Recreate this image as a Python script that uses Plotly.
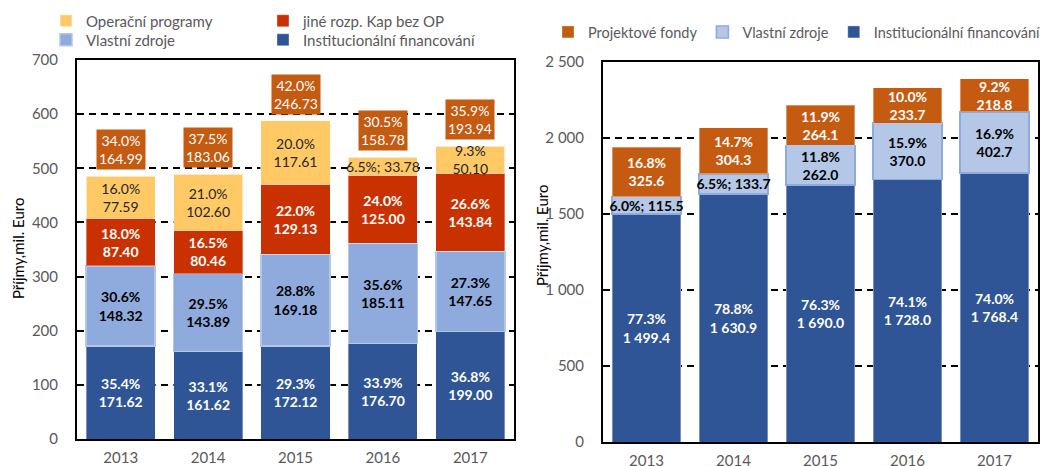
import plotly.graph_objects as go

years = ["2013", "2014", "2015", "2016", "2017"]

# ---- Left chart data (mil. Euro) ----
l_inst = [171.62, 161.62, 172.12, 176.70, 199.00]
l_inst_pct = [35.4, 33.1, 29.3, 33.9, 36.8]
l_vlast = [148.32, 143.89, 169.18, 185.11, 147.65]
l_vlast_pct = [30.6, 29.5, 28.8, 35.6, 27.3]
l_jine = [87.40, 80.46, 129.13, 125.00, 143.84]
l_jine_pct = [18.0, 16.5, 22.0, 24.0, 26.6]
l_op = [77.59, 102.60, 117.61, 33.78, 50.10]
l_op_pct = [16.0, 21.0, 20.0, 6.5, 9.3]
l_proj = [164.99, 183.06, 246.73, 158.78, 193.94]
l_proj_pct = [34.0, 37.5, 42.0, 30.5, 35.9]

# ---- Right chart data (mil. Euro) ----
r_inst = [1499.4, 1630.9, 1690.0, 1728.0, 1768.4]
r_inst_pct = [77.3, 78.8, 76.3, 74.1, 74.0]
r_vlast = [115.5, 133.7, 262.0, 370.0, 402.7]
r_vlast_pct = [6.0, 6.5, 11.8, 15.9, 16.9]
r_proj = [325.6, 304.3, 264.1, 233.7, 218.8]
r_proj_pct = [16.8, 14.7, 11.9, 10.0, 9.2]

FONT = "Lato"
GRAY = "#595959"


def fmt2(v):
    return f"{v:.2f}"


def fmt1(v):
    return f"{v:,.1f}".replace(",", " ")


def labels(vals, pcts, f, single_below):
    out = []
    for v, p in zip(vals, pcts):
        if v < single_below:
            out.append(f"{p:.1f}%; {f(v)}")
        else:
            out.append(f"{p:.1f}%<br>{f(v)}")
    return out


fig = go.Figure()


def add_bar(x, y, name, color, line_color, line_w, text, tcolor, weight, xa, ya, legend, rank):
    fig.add_trace(go.Bar(
        x=x, y=y, name=name, xaxis=xa, yaxis=ya,
        marker=dict(color=color, line=dict(color=line_color, width=line_w)),
        text=text, textposition="inside", insidetextanchor="middle",
        constraintext="none", textangle=0, cliponaxis=False,
        textfont=dict(family=FONT, size=14, color=tcolor, weight=weight),
        legend=legend, legendrank=rank, hoverinfo="skip",
    ))


# Left chart traces (bottom to top)
add_bar(years, l_inst, "Institucionální financování", "#2F5597", "rgba(255,255,255,0.35)", 1,
        labels(l_inst, l_inst_pct, fmt2, 40), "white", "bold", "x", "y", "legend2", 2)
add_bar(years, l_vlast, "Vlastní zdroje", "#8FAADC", "#B4C7E7", 1.5,
        labels(l_vlast, l_vlast_pct, fmt2, 40), "black", "bold", "x", "y", "legend2", 1)
add_bar(years, l_jine, "jiné rozp. Kap bez OP", "#C93200", "rgba(255,255,255,0.35)", 1,
        labels(l_jine, l_jine_pct, fmt2, 40), "white", "bold", "x", "y", "legend", 2)
add_bar(years, l_op, "Operační programy", "#FFC966", "rgba(255,255,255,0.6)", 1,
        labels(l_op, l_op_pct, fmt2, 40), "#262626", "normal", "x", "y", "legend", 1)

# Right chart traces
add_bar(years, r_inst, "Institucionální financování", "#2F5597", "rgba(255,255,255,0.35)", 1,
        labels(r_inst, r_inst_pct, fmt1, 200), "white", "bold", "x2", "y2", "legend3", 3)
add_bar(years, r_vlast, "Vlastní zdroje", "#B4C7E7", "#8FAADC", 1.5,
        labels(r_vlast, r_vlast_pct, fmt1, 200), "black", "bold", "x2", "y2", "legend3", 2)
add_bar(years, r_proj, "Projektové fondy", "#C55A11", "rgba(255,255,255,0.35)", 1,
        labels(r_proj, r_proj_pct, fmt1, 200), "white", "bold", "x2", "y2", "legend3", 1)

# Orange summary boxes above left bars (x given as category index)
annotations = []
for i, yr in enumerate(years):
    total = l_inst[i] + l_vlast[i] + l_jine[i] + l_op[i]
    annotations.append(dict(
        x=i, y=total, xref="x", yref="y", yanchor="bottom", yshift=6,
        text=f"{l_proj_pct[i]:.1f}%<br>{fmt2(l_proj[i])}", showarrow=False,
        bgcolor="#C55A11", borderpad=2,
        font=dict(family=FONT, size=14, color="white"),
    ))

# Axis titles
annotations.append(dict(text="Příjmy,mil. Euro", xref="paper", yref="paper",
                        x=18 / 1044, y=1 - 249 / 466, textangle=-90, showarrow=False,
                        xanchor="center", yanchor="middle",
                        font=dict(family=FONT, size=15, color="black")))
annotations.append(dict(text="Příjmy,mil. Euro", xref="paper", yref="paper",
                        x=542 / 1044, y=1 - 236 / 466, textangle=-90, showarrow=False,
                        xanchor="center", yanchor="middle",
                        font=dict(family=FONT, size=15, color="black")))

axis_common = dict(showline=True, mirror=True, linecolor="black", linewidth=2,
                   tickfont=dict(family=FONT, size=15, color=GRAY), fixedrange=True,
                   automargin=False)
yaxis_common = dict(axis_common, showgrid=True, gridcolor="black", gridwidth=1.5,
                    griddash="7px,5px", zeroline=False, ticklabelstandoff=14)
xaxis_common = dict(axis_common, type="category", showgrid=False, ticklabelstandoff=4,
                    range=[-0.5, len(years) - 0.5])

legend_common = dict(orientation="h", yanchor="middle", xanchor="left",
                     bgcolor="rgba(0,0,0,0)", font=dict(family=FONT, size=15, color=GRAY),
                     itemclick=False, itemdoubleclick=False, tracegroupgap=0,
                     traceorder="normal")

fig.update_layout(
    width=1044, height=466, margin=dict(l=0, r=0, t=0, b=0, autoexpand=False),
    paper_bgcolor="white", plot_bgcolor="white",
    font=dict(family=FONT, color=GRAY),
    barmode="stack", bargap=0.21, showlegend=True,
    xaxis=dict(xaxis_common, domain=[77 / 1044, 514 / 1044], anchor="y"),
    yaxis=dict(yaxis_common, domain=[1 - 439 / 466, 1 - 60 / 466], anchor="x",
               range=[0, 700], dtick=100),
    xaxis2=dict(xaxis_common, domain=[603 / 1044, 1038 / 1044], anchor="y2"),
    yaxis2=dict(yaxis_common, domain=[1 - 442 / 466, 1 - 62 / 466], anchor="x2",
                range=[0, 2500], dtick=500, separatethousands=True),
    separators=". ",
    legend=dict(legend_common, x=46 / 1044, y=1 - 21 / 466,
                entrywidth=172, entrywidthmode="pixels"),
    legend2=dict(legend_common, x=46 / 1044, y=1 - 40 / 466,
                 entrywidth=172, entrywidthmode="pixels"),
    legend3=dict(legend_common, x=548 / 1044, y=1 - 32 / 466,
                 font=dict(family=FONT, size=14.5, color=GRAY)),
    annotations=annotations,
)

fig.write_html("out.html")
